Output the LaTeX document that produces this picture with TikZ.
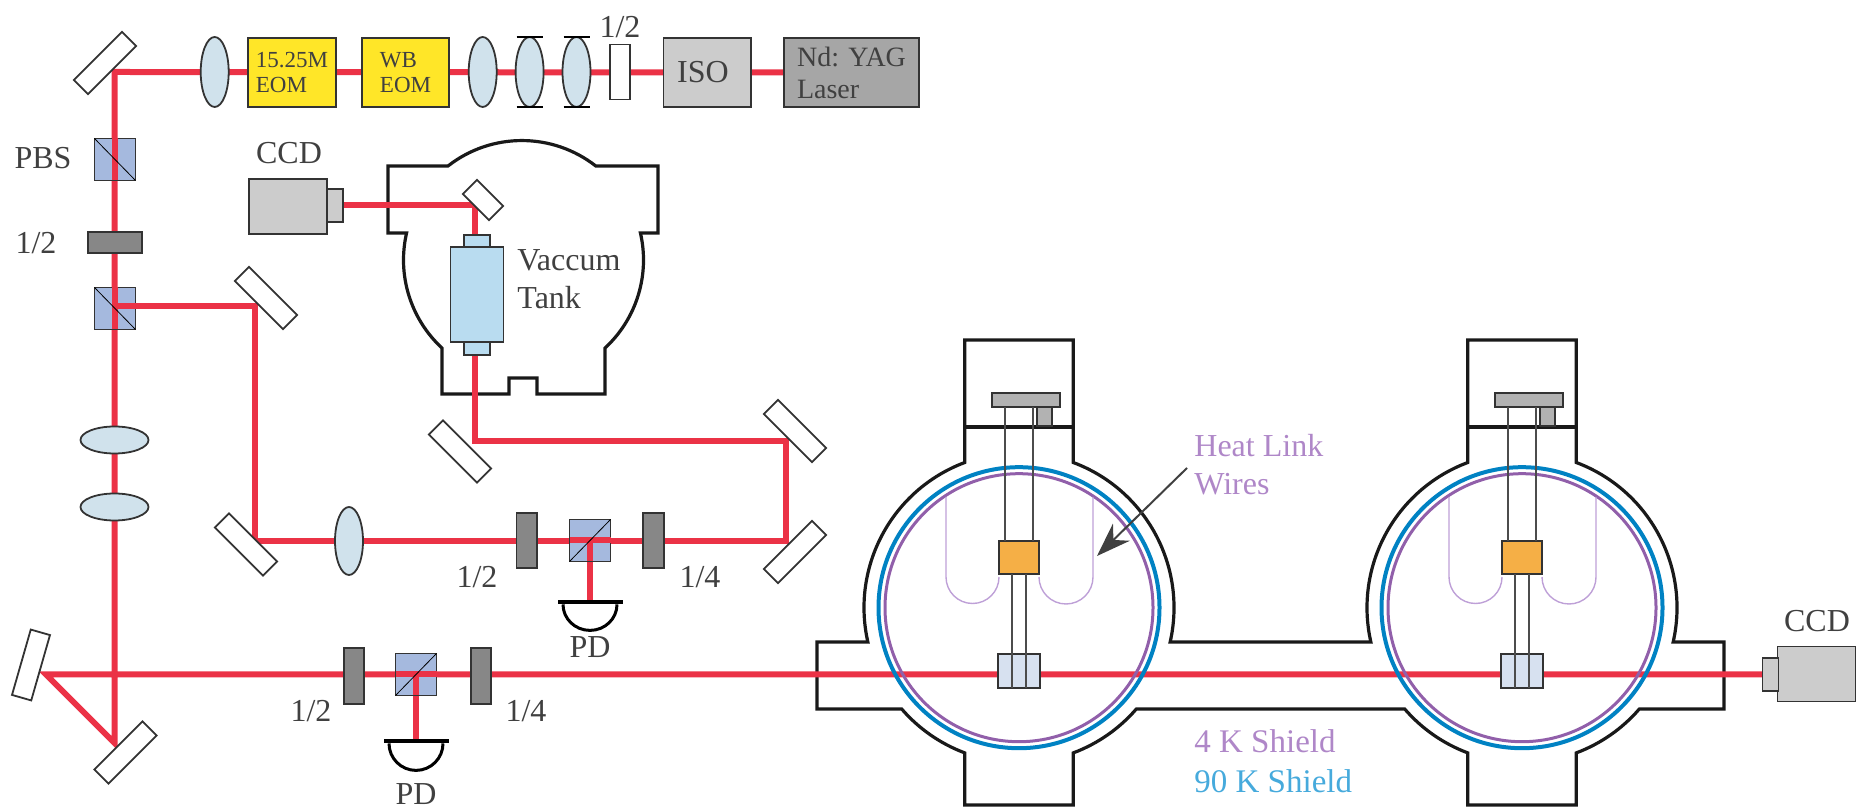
\documentclass[tikz,border=0pt]{standalone}
\usepackage{fontspec}
\setmainfont{Liberation Serif}
\usetikzlibrary{arrows.meta,shapes.geometric,backgrounds}

\definecolor{beamred}{RGB}{235,50,70}
\definecolor{lensblue}{RGB}{208,226,236}
\definecolor{cubeblue}{RGB}{165,185,222}
\definecolor{cleanerblue}{RGB}{185,220,240}
\definecolor{eomyellow}{RGB}{255,230,40}
\definecolor{shieldblue}{RGB}{0,130,195}
\definecolor{shieldpurple}{RGB}{145,95,170}
\definecolor{linkpurple}{RGB}{190,160,215}
\definecolor{textpurple}{RGB}{175,135,200}
\definecolor{textblue}{RGB}{70,170,220}
\definecolor{massorange}{RGB}{245,175,70}
\definecolor{massblue}{RGB}{215,225,240}

\tikzset{
    part/.style={draw=black!80, line width=0.9pt, inner sep=0pt, outer sep=0pt},
    mirror/.style={part, fill=white, minimum width=34pt, minimum height=10pt},
    lens/.style={part, ellipse, fill=lensblue, minimum width=14pt, minimum height=35pt},
    flatlens/.style={part, ellipse, fill=lensblue, minimum width=34pt, minimum height=13.5pt},
    plate/.style={part, fill=black!47, minimum width=10.25pt, minimum height=27.5pt},
    cube/.style={part, fill=cubeblue, minimum width=20.5pt, minimum height=21pt},
    bench/.style={part, minimum width=43.75pt, minimum height=34.5pt},
    cambody/.style={part, fill=black!20, minimum width=39pt, minimum height=27.5pt},
    camhead/.style={part, fill=black!20, minimum width=8pt, minimum height=16.5pt},
    pdbar/.style={fill=black, inner sep=0pt, minimum width=32.5pt, minimum height=2pt},
    lbl/.style={text=black!75, inner sep=0pt, font=\fontsize{16}{19}\selectfont, align=left},
    beam/.style={draw=beamred, line width=3pt, line join=miter},
    wall/.style={draw=black!90, line width=1.6pt, line join=miter},
    fibre/.style={draw=black!70, line width=1.2pt}
}

\begin{document}
\begin{tikzpicture}[x=0.5pt,y=0.5pt]
    \useasboundingbox (0,0) rectangle (1856,808);

    % Shields
    \coordinate (cryoa) at (1019,200.3);
    \coordinate (cryob) at (1522,200.3);
    \foreach \cryo in {cryoa,cryob} {
        \draw[shieldblue, line width=2pt] (\cryo) circle (140.5);
        \draw[shieldpurple, line width=1.5pt] (\cryo) circle (134);
    }

    % Mirrors
    \node[mirror, rotate=45] (mirrortop) at (105,745) {};
    \node[mirror, rotate=-45] (mirrorsplit) at (266,510) {};
    \node[mirror, rotate=-45, minimum width=18.5pt] (mirrortank) at (483,608) {};
    \node[mirror, rotate=-45] (mirrorout) at (795,377) {};
    \node[mirror, rotate=-45] (mirrorin) at (460,356.5) {};
    \node[mirror, rotate=-45] (mirrorlens) at (246,263.5) {};
    \node[mirror, rotate=45] (mirrorpd) at (795,256) {};
    \node[mirror, rotate=74] (mirrorleft) at (31,143) {};
    \node[mirror, rotate=45] (mirrorbottom) at (125.5,55.5) {};

    % Laser bench
    \node[lens] (lensa) at (214.7,736) {};
    \node[bench, fill=eomyellow, font=\fontsize{11.5}{12.5}\selectfont, text=black!75, align=left] (eoma) at (292,735.5) {15.25M\\EOM};
    \node[bench, fill=eomyellow, font=\fontsize{11.5}{12.5}\selectfont, text=black!75, align=left] (eomb) at (405.5,735.5) {WB\\EOM};
    \node[lens] (lensb) at (482.7,736) {};
    \node[lens] (lensc) at (529.6,736) {};
    \node[lens] (lensd) at (576.5,736) {};
    \node[plate, fill=white] (platetop) at (620,736) {};
    \node[lbl, above=0pt] (platetoplbl) at (620,770) {1/2};
    \node[bench, fill=black!20] (iso) at (707.3,735.5) {};
    \node[lbl] (isolbl) at (703,736) {ISO};
    \node[bench, fill=black!35, minimum width=67.5pt, draw=black!80, text=black!75, font=\fontsize{14}{16}\selectfont, align=left] (laser) at (851.5,735.5) {Nd: YAG\\Laser};
    \draw[line width=0.9pt] ([xshift=-6.5pt]lensc.north) -- ([xshift=6.5pt]lensc.north);
    \draw[line width=0.9pt] ([xshift=-6.5pt]lensc.south) -- ([xshift=6.5pt]lensc.south);
    \draw[line width=0.9pt] ([xshift=-6.5pt]lensd.north) -- ([xshift=6.5pt]lensd.north);
    \draw[line width=0.9pt] ([xshift=-6.5pt]lensd.south) -- ([xshift=6.5pt]lensd.south);

    % Vertical arm
    \node[cube] (pbsa) at (115,648.5) {};
    \draw[beam] (pbsa.north) -- (pbsa.south);
    \draw (pbsa.north west) -- (pbsa.south east);
    \node[lbl] (pbslbl) at (43,650) {PBS};
    \node[plate, minimum width=27pt, minimum height=10.5pt] (platearm) at (115,565.5) {};
    \node[lbl] (platearmlbl) at (36,565) {1/2};
    \node[cube] (pbsb) at (115,499.5) {};
    \draw[beam] (pbsb.north) -- (pbsb.south);
    \draw[beam] (114.5,502) -- (pbsb.east |- 0,502);
    \draw (pbsb.north west) -- (pbsb.south east);
    \node[flatlens] (lense) at (114.5,368) {};
    \node[flatlens] (lensf) at (114.5,301) {};

    % Tank camera and cleaner
    \node[lbl] (ccdalbl) at (289,655) {CCD};
    \node[cambody] (ccdabody) at (288,601.5) {};
    \node[camhead] (ccdahead) at (335,602.5) {};
    \node[part, fill=cleanerblue, minimum width=26.5pt, minimum height=47.5pt] (cleaner) at (477,513.5) {};
    \node[part, fill=cleanerblue, minimum width=13pt, minimum height=6pt] (cleanertop) at (477,567) {};
    \node[part, fill=cleanerblue, minimum width=13pt, minimum height=6.5pt] (cleanerbottom) at (477,459.5) {};
    \node[lbl, anchor=west] (tanklbl) at (517,529) {Vaccum\\Tank};

    % Middle bench
    \node[lens, minimum height=34pt] (lensg) at (349,267) {};
    \node[plate] (platec) at (526.7,267.5) {};
    \node[cube] (pbsc) at (590,267.5) {};
    \draw[beam] (pbsc.west) -- (pbsc.east);
    \draw[beam] (pbsc.center) -- (pbsc.south);
    \draw (pbsc.south west) -- (pbsc.north east);
    \node[plate] (plated) at (653.5,267.5) {};
    \node[lbl] (platectxt) at (477,231) {1/2};
    \node[lbl] (platedtxt) at (700,231) {1/4};
    \node[pdbar] (pda) at (590,206) {};
    \node[lbl] (pdalbl) at (590,161) {PD};
    \draw[line width=1.5pt] ([xshift=-13.5pt]pda.south) arc[start angle=180,end angle=360,x radius=13.5pt,y radius=13pt];

    % Lower bench
    \node[plate, minimum height=28pt] (platee) at (354,132) {};
    \node[cube] (pbsd) at (416,133.5) {};
    \draw[beam] (pbsd.west) -- (pbsd.east);
    \draw[beam] (pbsd.center) -- (pbsd.south);
    \draw (pbsd.south west) -- (pbsd.north east);
    \node[plate, minimum height=28pt] (platef) at (481,132) {};
    \node[lbl] (plateetxt) at (311,97) {1/2};
    \node[lbl] (plateftxt) at (526,97) {1/4};
    \node[pdbar] (pdb) at (416,67) {};
    \node[lbl] (pdblbl) at (416,14) {PD};
    \draw[line width=1.5pt] ([xshift=-13.5pt]pdb.south) arc[start angle=180,end angle=360,x radius=13.5pt,y radius=13.5pt];

    % Suspension inside one cryostat
    \def\suspension(#1,#2){
        \begin{scope}[xshift=#1*0.5pt]
            \node[part, fill=black!30, minimum width=34pt, minimum height=7pt] (plate#2) at (1026,408) {};
            \node[part, fill=black!30, minimum width=7.5pt, minimum height=9.5pt, anchor=north] (post#2) at (1044.5,401) {};
            \node[part, fill=massorange, minimum width=20pt, minimum height=16.5pt] (mass#2) at (1019,250.5) {};
            \node[part, fill=massblue, minimum width=21pt, minimum height=17pt] (test#2) at (1019,137) {};
            \draw[fibre] ([xshift=-7pt]mass#2.north) -- ([xshift=-7pt]mass#2.north |- plate#2.south);
            \draw[fibre] ([xshift=7pt]mass#2.north) -- ([xshift=7pt]mass#2.north |- plate#2.south);
            \draw[fibre] ([xshift=-3.5pt]mass#2.south) -- ([xshift=-3.5pt]test#2.south);
            \draw[fibre] ([xshift=3.5pt]mass#2.south) -- ([xshift=3.5pt]test#2.south);
            \draw[linkpurple, line width=0.7pt] (946,311) -- (946,231) arc[start angle=180,end angle=360,radius=26.5];
            \draw[linkpurple, line width=0.7pt] (1093,311) -- (1093,231) arc[start angle=360,end angle=180,radius=27];
        \end{scope}
    }
    \suspension(0,a)
    \suspension(503,b)

    % End camera
    \node[lbl] (ccdblbl) at (1817,187) {CCD};
    \node[cambody] (ccdbbody) at (1816.5,134) {};
    \node[camhead] (ccdbhead) at (1770.5,133.5) {};

    % Heat link and shield labels
    \node[lbl, text=textpurple, anchor=west] (heatlbl) at (1194,343) {Heat Link\\Wires};
    \node[lbl, text=textpurple, anchor=west, font=\fontsize{16.5}{19}\selectfont] (foursh) at (1194,67) {4 K Shield};
    \node[lbl, text=textblue, anchor=west, font=\fontsize{16.5}{19}\selectfont] (ninetysh) at (1194,27) {90 K Shield};
    \coordinate (leadtail) at (1187,340);
    \coordinate (leadtip) at (1097,252);
    \draw[-{Stealth[length=17pt,width=12pt]}, draw=black!75, fill=black!75, line width=1pt] (leadtail) -- (leadtip);

    % Walls and beams go behind the parts
    \coordinate (turna) at (114.5,736);
    \coordinate (turnb) at (114.5,65);
    \coordinate (turnc) at (46,133.5);
    \coordinate (turnd) at (114.5,502);
    \coordinate (turne) at (255,502);
    \coordinate (turnf) at (255,267);
    \coordinate (turng) at (786,267);
    \coordinate (turnh) at (786,367);
    \coordinate (turni) at (475,367);
    \coordinate (turnj) at (475,602.5);
    \begin{pgfonlayer}{background}
        % Tank
        \draw[wall] (388,642) -- (448,642) arc[start angle=128,end angle=52,radius=120] -- (658,642) -- (658,575)
            -- ([shift={(523.5,548)}]13:120) arc[start angle=13,end angle=-47.2,radius=120]
            -- (605,414) -- (537,414) -- (537,430) -- (509,430) -- (509,414) -- (442,414)
            -- ([shift={(523.5,548)}]227.2:120) arc[start angle=227.2,end angle=167,radius=120]
            -- (388,575) -- cycle;
        % Cryostats
        \draw[wall] (817,166) -- (817,99)
            -- ([shift={(cryoa)}]220.8:155) arc[start angle=220.8,end angle=249.5,radius=155] -- (964.7,3) -- (1073.3,3)
            -- ([shift={(cryoa)}]290.5:155) arc[start angle=290.5,end angle=319.2,radius=155]
            -- ([shift={(cryob)}]220.8:155) arc[start angle=220.8,end angle=249.5,radius=155] -- (1467.7,3) -- (1576.3,3)
            -- ([shift={(cryob)}]290.5:155) arc[start angle=290.5,end angle=319.2,radius=155]
            -- (1724,99) -- (1724,166)
            -- ([shift={(cryob)}]-12.8:155) arc[start angle=-12.8,end angle=69.5,radius=155] -- (1576.3,468) -- (1467.7,468)
            -- ([shift={(cryob)}]110.5:155) arc[start angle=110.5,end angle=192.8,radius=155]
            -- ([shift={(cryoa)}]-12.8:155) arc[start angle=-12.8,end angle=69.5,radius=155] -- (1073.3,468) -- (964.7,468)
            -- ([shift={(cryoa)}]110.5:155) arc[start angle=110.5,end angle=192.8,radius=155] -- cycle;
        \draw[wall] (964.7,381) -- (1073.3,381);
        \draw[wall] (1467.7,381) -- (1576.3,381);
        % Beams
        \draw[beam] (laser.center) -- (turna) -- (turnb) -- (turnc) -- (ccdbhead.center);
        \draw[beam] (turnd) -- (turne) -- (turnf) -- (turng) -- (turnh) -- (turni) -- (turnj) -- (ccdahead.center);
        \draw[beam] (pbsc.center) -- (pda.north);
        \draw[beam] (pbsd.center) -- (pdb.north);
    \end{pgfonlayer}
\end{tikzpicture}
\end{document}
